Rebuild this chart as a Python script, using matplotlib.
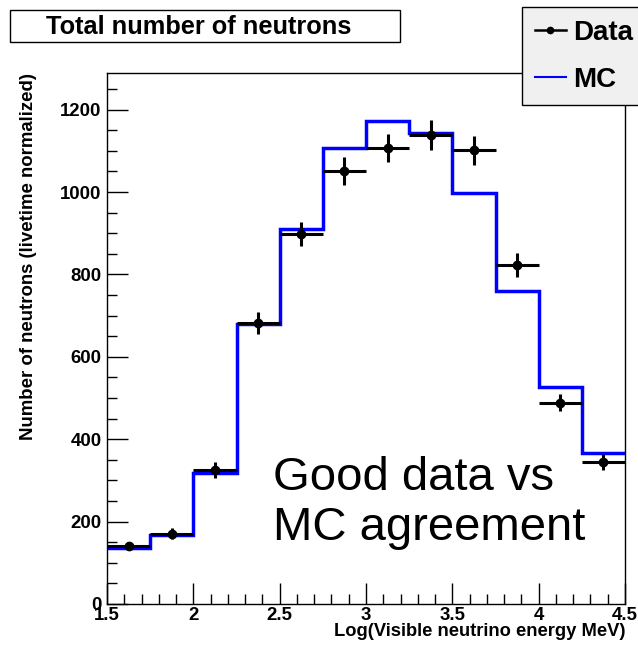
import matplotlib
matplotlib.use("Agg")
import matplotlib.pyplot as plt
from matplotlib.patches import Rectangle
from matplotlib.lines import Line2D
from matplotlib.ticker import MultipleLocator, FuncFormatter
import numpy as np

# ---- data ----
bin_edges = [1.5, 1.75, 2.0, 2.25, 2.5, 2.75, 3.0, 3.25, 3.5, 3.75, 4.0, 4.25, 4.5]
mc_counts = [136, 167, 319, 680, 911, 1108, 1172, 1144, 998, 761, 526, 367]
data_counts = [141, 171, 325, 682, 898, 1051, 1107, 1138, 1101, 823, 489, 344]
data_errors = [10, 13, 20, 26, 30, 35, 35, 36, 35, 30, 21, 19]
title_text = "Total number of neutrons"
x_label = "Log(Visible neutrino energy MeV)"
y_label = "Number of neutrons (livetime normalized)"
series_names = ["Data", "MC"]
note_lines = ["Good data vs", "MC agreement"]

W, H = 638, 647
plt.rcParams['font.family'] = ['Liberation Sans', 'DejaVu Sans']
fig = plt.figure(figsize=(W / 100, H / 100), dpi=100)

ax = fig.add_axes([107 / W, 1 - 604 / H, (625 - 107) / W, (604 - 73) / H])

edges = np.array(bin_edges)
centers = 0.5 * (edges[:-1] + edges[1:])
half_w = 0.5 * np.diff(edges)

ax.stairs(mc_counts, edges, baseline=None, color='#0000ff', lw=2.5, zorder=2)
ax.errorbar(centers, data_counts, xerr=half_w, yerr=data_errors, fmt='o', color='black',
            ms=6, elinewidth=2.2, capsize=0, zorder=3)

ax.set_xlim(1.5, 4.5)
ax.set_ylim(0, 1289)
ax.xaxis.set_major_locator(MultipleLocator(0.5))
ax.xaxis.set_minor_locator(MultipleLocator(0.1))
ax.yaxis.set_major_locator(MultipleLocator(200))
ax.yaxis.set_minor_locator(MultipleLocator(50))
ax.xaxis.set_major_formatter(FuncFormatter(lambda v, p: f"{v:g}"))
ax.tick_params(which='both', direction='in', top=False, right=False, color='black', width=1)
ax.tick_params(which='major', length=15, labelsize=13.4, pad=2)
ax.tick_params(which='minor', length=7.5)
ax.tick_params(axis='y', pad=4)
for lab in ax.get_xticklabels() + ax.get_yticklabels():
    lab.set_fontweight('bold')
for s in ax.spines.values():
    s.set_color('black')
    s.set_linewidth(1)

ax.set_xlabel(x_label, fontsize=13.2, fontweight='bold', loc='right')
ax.set_ylabel(y_label, fontsize=13.4, fontweight='bold', loc='top')
ax.xaxis.set_label_coords(1.0, -0.035)
ax.yaxis.set_label_coords(-0.135, 1.0)

# title box
fig.patches.append(Rectangle((10 / W, 1 - 42 / H), 390 / W, 32 / H, transform=fig.transFigure,
                             facecolor='white', edgecolor='black', lw=1))
fig.text(199 / W, 1 - 27 / H, title_text, ha='center', va='center', fontsize=18.3, fontweight='bold')

# legend
handles = [Line2D([], [], color='black', lw=1.8, marker='o', ms=4.5),
           Line2D([], [], color='#0000ff', lw=1.5)]
leg = fig.legend(handles=handles, labels=series_names, loc='upper left',
                 bbox_to_anchor=(522 / W, 1 - 106 / H, 160 / W, 99 / H), mode='expand',
                 prop={'weight': 'bold', 'size': 20}, frameon=True, fancybox=False,
                 borderpad=0.45, labelspacing=0.77, handlelength=1.15, handletextpad=0.25,
                 borderaxespad=0)
leg.get_frame().set_facecolor('#f0f0f0')
leg.get_frame().set_edgecolor('black')
leg.get_frame().set_linewidth(1)
leg.get_frame().set_alpha(1)

# annotation
fig.text(273 / W, 1 - 490 / H, note_lines[0], ha='left', va='baseline', fontsize=34)
fig.text(273 / W, 1 - 540 / H, note_lines[1], ha='left', va='baseline', fontsize=34)

fig.savefig("out.png", dpi=100)
